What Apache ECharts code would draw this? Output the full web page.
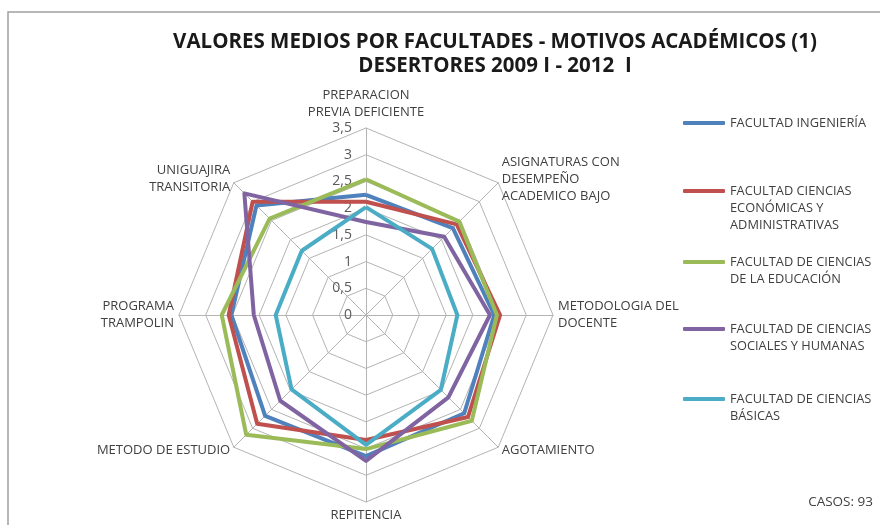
<!DOCTYPE html>
<html>
<head>
<meta charset="utf-8">
<script src="https://cdn.jsdelivr.net/npm/echarts@6/dist/echarts.min.js"></script>
<style>
html,body{margin:0;padding:0;background:#fff;}
#chart{width:880px;height:525px;}
</style>
</head>
<body>
<div id="chart"></div>
<script>
// Categories in clockwise order starting at the top (as in the reference)
const categories = [
  'PREPARACION\nPREVIA DEFICIENTE',
  'ASIGNATURAS CON\nDESEMPEÑO\nACADEMICO BAJO',
  'METODOLOGIA DEL\nDOCENTE',
  'AGOTAMIENTO',
  'REPITENCIA',
  'METODO DE ESTUDIO',
  'PROGRAMA\nTRAMPOLIN',
  'UNIGUAJIRA\nTRANSITORIA'
];
const seriesNames = [
  'FACULTAD INGENIERÍA',
  'FACULTAD CIENCIAS\nECONÓMICAS Y\nADMINISTRATIVAS',
  'FACULTAD DE CIENCIAS\nDE LA EDUCACIÓN',
  'FACULTAD DE CIENCIAS\nSOCIALES Y HUMANAS',
  'FACULTAD DE CIENCIAS\nBÁSICAS'
];
const ingenieria = [2.25, 2.30, 2.40, 2.60, 2.64, 2.67, 2.52, 2.90];
const economicas = [2.12, 2.40, 2.51, 2.70, 2.34, 2.88, 2.57, 3.00];
const educacion  = [2.54, 2.47, 2.45, 2.80, 2.51, 3.17, 2.70, 2.55];
const sociales   = [1.74, 2.07, 2.32, 2.18, 2.73, 2.27, 2.10, 3.22];
const basicas    = [2.02, 1.75, 1.71, 1.98, 2.43, 1.97, 1.69, 1.70];
const tickLabels = ['0', '0,5', '1', '1,5', '2', '2,5', '3', '3,5'];
const axisMax = 3.5;
const casosText = 'CASOS: 93';

const colors = ['#4F81BD', '#C0504D', '#9BBB59', '#8064A2', '#4BACC6'];
const allValues = [ingenieria, economicas, educacion, sociales, basicas];

// ECharts lays indicators out counter-clockwise; reorder to get clockwise
const order = categories.map((_, i) => (categories.length - i) % categories.length);
const reorder = arr => order.map(i => arr[i]);

const FONT = '"Open Sans", sans-serif';
const TXT = '#404040';

const indicators = reorder(categories).map((name, i) => {
  const ind = { name: name, max: axisMax, min: 0 };
  if (i === 0) {
    ind.axisLabel = {
      show: true,
      fontSize: 14,
      fontFamily: FONT,
      color: '#595959',
      margin: 14,
      showMinLabel: true,
      showMaxLabel: true,
      formatter: v => tickLabels[Math.round(v / 0.5)]
    };
  }
  return ind;
});

const LH = 17;
const legends = seriesNames.map((name, i) => {
  const n = name.split('\n').length;
  const iconY = [123, 191, 262, 329, 399][i];
  const boxH = (2 * n - 1) * LH;
  return {
    data: [name],
    left: 683,
    top: iconY - boxH / 2,
    orient: 'vertical',
    padding: 0,
    icon: 'roundRect',
    itemWidth: 42,
    itemHeight: 4,
    selectedMode: false,
    // blank lines on top so that the first text line sits on the icon
    formatter: nm => '\n'.repeat(n - 1) + nm,
    textStyle: {
      fontFamily: FONT,
      fontSize: 12.8,
      color: TXT,
      lineHeight: LH
    }
  };
});

const chart = echarts.init(document.getElementById('chart'), null, { renderer: 'canvas' });
chart.setOption({
  backgroundColor: '#ffffff',
  animation: false,
  color: colors,
  title: {
    text: 'VALORES MEDIOS POR FACULTADES - MOTIVOS ACADÉMICOS (1)\nDESERTORES 2009 I - 2012  I',
    left: 490,
    top: 25,
    textAlign: 'center',
    textStyle: {
      fontFamily: FONT,
      fontWeight: 'bold',
      fontSize: 20.5,
      lineHeight: 24,
      color: '#1a1a1a'
    }
  },
  legend: legends,
  radar: {
    center: [366, 315],
    radius: 187,
    startAngle: 90,
    splitNumber: 7,
    shape: 'polygon',
    indicator: indicators,
    nameGap: 5,
    axisName: {
      color: TXT,
      fontFamily: FONT,
      fontSize: 13,
      lineHeight: 17
    },
    axisLine: { lineStyle: { color: '#b4b4b4', width: 1 } },
    splitLine: { lineStyle: { color: '#b4b4b4', width: 1 } },
    splitArea: { show: false },
    axisLabel: { show: false },
    axisTick: { show: false }
  },
  series: [{
    type: 'radar',
    symbol: 'none',
    data: seriesNames.map((name, i) => ({
      name: name,
      value: reorder(allValues[i]),
      lineStyle: { color: colors[i], width: 4 },
      itemStyle: { color: colors[i] }
    }))
  }],
  graphic: [
    {
      type: 'polyline',
      shape: { points: [[8, 525], [8, 12], [880, 12]] },
      style: { stroke: '#a0a0a0', lineWidth: 1.5, fill: null },
      silent: true
    },
    {
      type: 'text',
      right: 7,
      top: 495,
      style: {
        text: casosText,
        fontFamily: FONT,
        fontSize: 13.5,
        fill: TXT
      }
    }
  ]
});
</script>
</body>
</html>
